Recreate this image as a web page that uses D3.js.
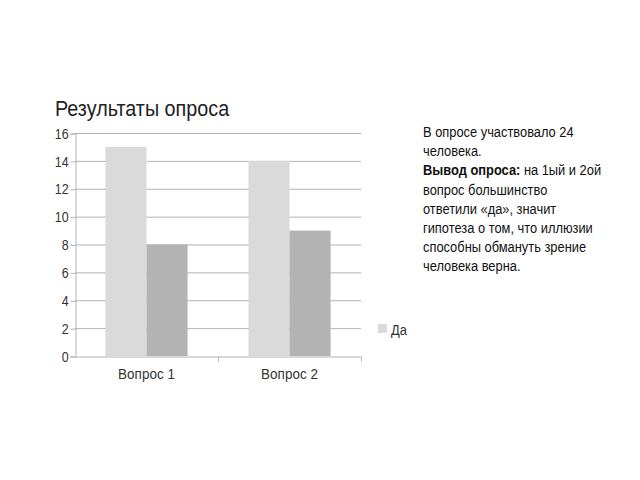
<!DOCTYPE html>
<html>
<head>
<meta charset="utf-8">
<script src="https://cdn.jsdelivr.net/npm/d3@7"></script>
<style>
  body { margin: 0; background: #fff; }
  svg text { font-family: "Liberation Sans Narrow", "Liberation Sans", Arial, sans-serif; }
</style>
</head>
<body>
<div class="svg-container"></div>
<script>
// chart data
const categories = ["Вопрос 1", "Вопрос 2"];
const seriesNames = ["Да", "Нет"];
const yesValues = [15, 14];
const noValues = [8, 9];
const yTicks = [0, 2, 4, 6, 8, 10, 12, 14, 16];
const noteLines = [
  [{ t: "В опросе участвовало 24" }],
  [{ t: "человека." }],
  [{ t: "Вывод опроса:", b: true }, { t: " на 1ый и 2ой" }],
  [{ t: "вопрос большинство" }],
  [{ t: "ответили «да», значит" }],
  [{ t: "гипотеза о том, что иллюзии" }],
  [{ t: "способны обмануть зрение" }],
  [{ t: "человека верна." }]
];

const colours = ["#dadada", "#b3b3b3"];
const width = 640, height = 480;
const plot = { left: 75, right: 361, top: 133, bottom: 356 };
// no narrow font installed, so squeeze text horizontally
const sq = (k) => "scale(" + k + ",1)";

const svg = d3.select(".svg-container")
  .append("svg")
  .attr("width", width)
  .attr("height", height);

const xScale = d3.scaleBand()
  .domain(categories)
  .range([plot.left, plot.right]);

const xInner = d3.scaleBand()
  .domain(seriesNames)
  .range([0, xScale.bandwidth()])
  .paddingInner(0)
  .paddingOuter(0.74);

const yScale = d3.scaleLinear()
  .domain([0, 16])
  .range([plot.bottom, plot.top]);

// gridlines
svg.append("g")
  .selectAll("line")
  .data(yTicks.filter(d => d > 0))
  .enter()
  .append("line")
  .attr("x1", plot.left)
  .attr("x2", plot.right)
  .attr("y1", d => yScale(d) + 0.5)
  .attr("y2", d => yScale(d) + 0.5)
  .style("stroke", "#b3b3b3")
  .style("stroke-width", 1);

// bars
const rows = categories.map((c, i) => ({ cat: c, vals: [yesValues[i], noValues[i]] }));

svg.append("g")
  .selectAll("g")
  .data(rows)
  .enter()
  .append("g")
  .attr("transform", d => "translate(" + xScale(d.cat) + ",0)")
  .selectAll("rect")
  .data(d => d.vals.map((v, j) => ({ name: seriesNames[j], v: v, j: j })))
  .enter()
  .append("rect")
  .attr("x", d => xInner(d.name))
  .attr("width", xInner.bandwidth())
  .attr("y", d => yScale(d.v))
  .attr("height", d => yScale(0) - yScale(d.v))
  .style("fill", d => colours[d.j]);

// Y-AXIS
const yAxis = svg.append("g")
  .attr("transform", "translate(" + (plot.left + 0.5) + ",0.5)")
  .call(d3.axisLeft(yScale).tickValues(yTicks).tickSize(5).tickPadding(3));
yAxis.select(".domain").attr("stroke", "#b3b3b3");
yAxis.selectAll(".tick line").attr("stroke", "#b3b3b3");
yAxis.selectAll("text")
  .attr("transform", sq(0.86))
  .style("font-size", "14.5px")
  .style("fill", "#333");

// X-AXIS
const xAxis = svg.append("g")
  .attr("transform", "translate(0," + (plot.bottom + 0.5) + ")")
  .call(d3.axisBottom(xScale).tickSize(0).tickPadding(12));
xAxis.select(".domain").attr("stroke", "#b3b3b3");
xAxis.selectAll(".tick text")
  .attr("transform", sq(0.9))
  .style("font-size", "15px")
  .style("fill", "#333");
// boundary ticks between categories
xAxis.selectAll(".sep")
  .data(categories.slice(1).map(c => xScale(c)).concat([plot.right]))
  .enter()
  .append("line")
  .attr("x1", d => d + 0.5)
  .attr("x2", d => d + 0.5)
  .attr("y1", 0)
  .attr("y2", 5)
  .attr("stroke", "#b3b3b3");

// title
svg.append("text")
  .attr("transform", "translate(55,116) " + sq(0.92))
  .style("font-size", "21.5px")
  .style("fill", "#222")
  .text("Результаты опроса");

// LEGEND (only first series shown)
svg.append("rect")
  .attr("x", 378)
  .attr("y", 324)
  .attr("width", 9)
  .attr("height", 9)
  .style("fill", colours[0]);
svg.append("text")
  .attr("transform", "translate(391,335) " + sq(0.86))
  .style("font-size", "15px")
  .style("fill", "#333")
  .text(seriesNames[0]);

// note text
const note = svg.append("text")
  .attr("transform", "translate(423,137) " + sq(0.83))
  .style("font-size", "15.5px")
  .style("fill", "#111");

noteLines.forEach((line, i) => {
  line.forEach((part, k) => {
    const ts = note.append("tspan")
      .text(part.t)
      .style("font-weight", part.b ? "bold" : "normal");
    if (k === 0) ts.attr("x", 0).attr("dy", i === 0 ? 0 : 19.2);
  });
});
</script>
</body>
</html>
